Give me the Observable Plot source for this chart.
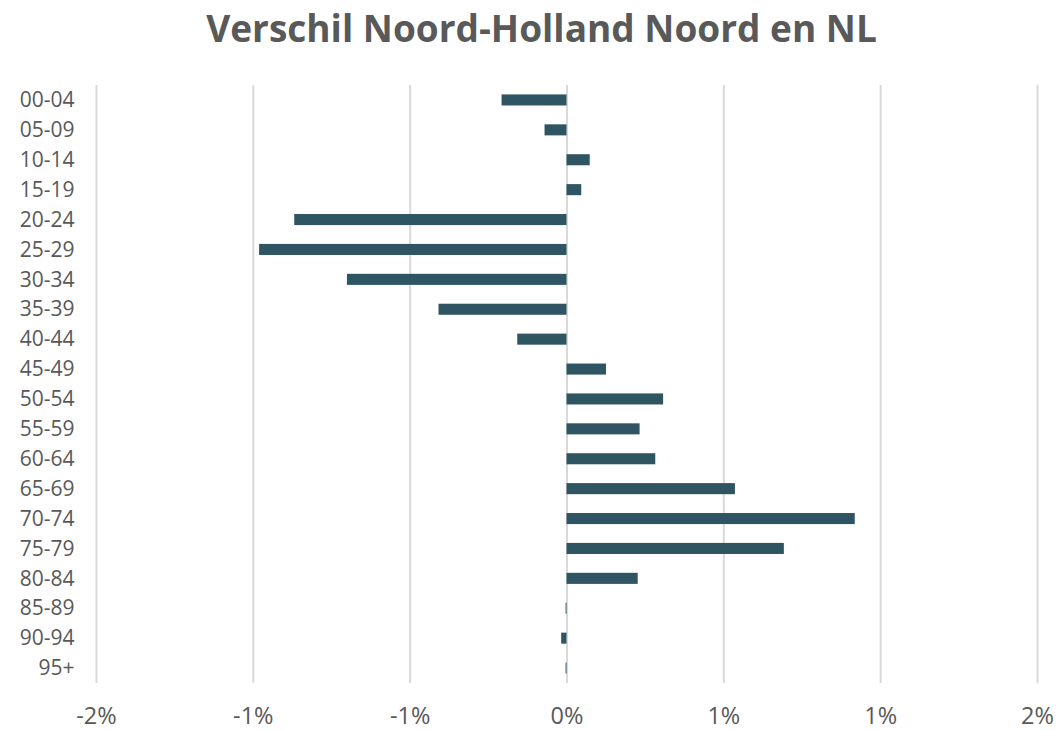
<!DOCTYPE html>
<html>
<head>
<meta charset="utf-8">
<script src="https://cdn.jsdelivr.net/npm/d3@7"></script>
<script src="https://cdn.jsdelivr.net/npm/@observablehq/plot@0.6"></script>
<style>
  body { margin: 0; background: #fff; font-family: "Open Sans", sans-serif; }
  #title { height: 60px; line-height: 56px; text-align: center; font-size: 37px; font-weight: 700; color: #595959; padding-left: 24px; box-sizing: border-box; width: 1059px; }
</style>
</head>
<body>
<div id="title">Verschil Noord-Holland Noord en NL</div>
<div id="chart"></div>
<script>
const ageGroups = ["00-04","05-09","10-14","15-19","20-24","25-29","30-34","35-39","40-44","45-49","50-54","55-59","60-64","65-69","70-74","75-79","80-84","85-89","90-94","95+"];
const diffPct = [-0.207,-0.070,0.074,0.047,-0.868,-0.980,-0.700,-0.408,-0.157,0.126,0.308,0.233,0.283,0.537,0.919,0.693,0.227,-0.003,-0.017,-0.003];
const xTicks = [-1.5,-1,-0.5,0,0.5,1,1.5];

const data = ageGroups.map((g, i) => ({group: g, value: diffPct[i]}));
const fmt = d => (d < 0 ? "-" : "") + Math.round(Math.abs(d)) + "%";

const chart = Plot.plot({
  width: 1059,
  height: 670,
  marginLeft: 96,
  marginRight: 22,
  marginTop: 25,
  marginBottom: 47,
  style: {fontFamily: "Open Sans, sans-serif", fontSize: "21px", color: "#595959", background: "#fff"},
  x: {domain: [-1.5, 1.5], ticks: xTicks, tickFormat: fmt, label: null},
  y: {domain: ageGroups, label: null, paddingInner: 0.63, paddingOuter: 0.315, round: false},
  marks: [
    Plot.gridX(xTicks, {stroke: "#d9d9d9", strokeOpacity: 1, strokeWidth: 2}),
    Plot.barX(data, {x: "value", y: "group", fill: "#2f5563"}),
    Plot.axisX({ticks: xTicks, tickFormat: fmt, tickSize: 0, tickPadding: 24, fill: "#595959", fontSize: 23.5}),
    Plot.axisY({tickSize: 0, tickPadding: 22, fill: "#595959", fontSize: 21})
  ]
});
document.getElementById("chart").appendChild(chart);
</script>
</body>
</html>
